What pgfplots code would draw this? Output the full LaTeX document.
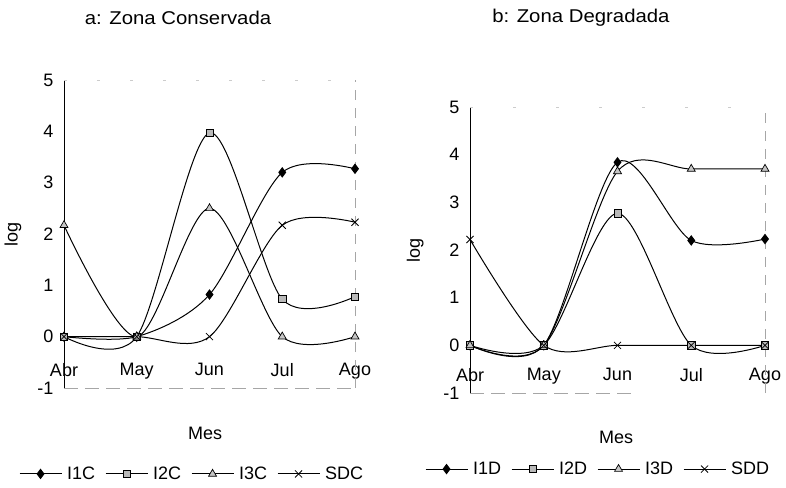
\documentclass[border=0pt]{standalone}
\usepackage{fontspec}
\setmainfont{Liberation Sans}
\newfontfamily\titlefont{Liberation Sans}[FakeStretch=1.1]
\usepackage{pgfplots}
\pgfplotsset{compat=1.18}

\pgfplotsset{
  serie/.style={black, line width=1pt, smooth},
  sI1/.style={serie, mark=diamond*, mark size=4.5pt, mark options={solid, fill=black}},
  sI2/.style={serie, mark=square*, mark size=3.6pt, mark options={solid, fill=gray!55, line width=0.7pt}},
  sI3/.style={serie, mark=triangle*, mark size=4.6pt, mark options={solid, fill=gray!45, line width=0.7pt}},
  sSD/.style={serie, mark=x, mark size=5pt, mark options={solid, line width=0.8pt}},
  panel/.style={
    scale only axis, clip=false,
    font=\fontsize{18}{21}\selectfont,
    xmin=0, xmax=4, ymin=-1, ymax=5,
    xtick={0,...,4}, xticklabels={Abr,May,Jun,Jul,Ago},
    ytick={-1,...,5},
    major tick length=0pt,
    axis line style={draw=none},
    /pgf/number format/assume math mode=true,
    xticklabel style={yshift=28pt},
    yticklabel style={xshift=-7pt},
    xlabel={Mes}, ylabel={log},
    title style={font=\fontsize{18.5}{22}\titlefont},
    legend columns=4,
    legend cell align=left,
    legend style={draw=none, fill=none, anchor=center,
      /tikz/every odd column/.append style={column sep=3pt},
      /tikz/every even column/.append style={column sep=8pt}},
    legend image code/.code={%
      \draw[mark repeat=2, mark phase=2] plot coordinates {(0pt,0pt) (21pt,0pt) (42pt,0pt)};},
  },
}

\begin{document}
\begin{tikzpicture}
\useasboundingbox (0pt,0pt) rectangle (786pt,487pt);

% a: Zona Conservada
\begin{axis}[panel,
  at={(64pt,99pt)}, anchor=south west, width=291pt, height=308pt,
  title={a: Zona Conservada},
  title style={at={(axis description cs:0.392,1.182)}, anchor=center},
  xlabel style={at={(axis description cs:0.485,-0.146)}, anchor=center},
  ylabel style={at={(axis description cs:-0.175,0.5)}, anchor=center},
  legend style={at={(axis description cs:0.44,-0.279)}},
]
\draw[black, line width=0.9pt] (rel axis cs:0,0) -- (rel axis cs:0,1);
\draw[gray!70, line width=0.8pt, dash pattern=on 14pt off 7pt] (rel axis cs:0,0) -- (rel axis cs:1,0);
\draw[gray!70, line width=0.7pt, dash pattern=on 10pt off 8pt] (rel axis cs:1,0) -- (rel axis cs:1,1);
\draw[gray!40, line width=0.6pt, dash pattern=on 3pt off 30pt] (rel axis cs:0,1) -- (rel axis cs:1,1);
\addplot[sI1] coordinates {(0,0) (1,0) (2,0.82) (3,3.2) (4,3.27)};
\addplot[sI2] coordinates {(0,0) (1,0) (2,3.97) (3,0.73) (4,0.78)};
\addplot[sI3] coordinates {(0,2.17) (1,0) (2,2.5) (3,0) (4,0)};
\addplot[sSD] coordinates {(0,0) (1,0) (2,0) (3,2.17) (4,2.23)};
\legend{I1C, I2C, I3C, SDC}
\end{axis}

% b: Zona Degradada
\begin{axis}[panel,
  at={(470pt,94pt)}, anchor=south west, width=295pt, height=286pt,
  title={b: Zona Degradada},
  title style={at={(axis description cs:0.376,1.29)}, anchor=center},
  xlabel style={at={(axis description cs:0.495,-0.154)}, anchor=center},
  ylabel style={at={(axis description cs:-0.186,0.5)}, anchor=center},
  legend style={at={(axis description cs:0.434,-0.266)}},
]
\draw[black, line width=0.9pt] (rel axis cs:0,0) -- (rel axis cs:0,1);
\draw[gray!70, line width=0.8pt, dash pattern=on 14pt off 7pt] (rel axis cs:0,0) -- (rel axis cs:0.55,0);
\draw[gray!70, line width=0.7pt, dash pattern=on 10pt off 8pt] (rel axis cs:1,0) -- (rel axis cs:1,1);
\draw[gray!40, line width=0.6pt, dash pattern=on 3pt off 40pt] (rel axis cs:0,1) -- (rel axis cs:1,1);
\addplot[sI1] coordinates {(0,0) (1,0) (2,3.84) (3,2.2) (4,2.23)};
\addplot[sI2] coordinates {(0,0) (1,0) (2,2.77) (3,0) (4,0)};
\addplot[sI3] coordinates {(0,0) (1,0) (2,3.65) (3,3.7) (4,3.7)};
\addplot[sSD] coordinates {(0,2.22) (1,0) (2,0) (3,0) (4,0)};
\legend{I1D, I2D, I3D, SDD}
\end{axis}
\end{tikzpicture}
\end{document}
